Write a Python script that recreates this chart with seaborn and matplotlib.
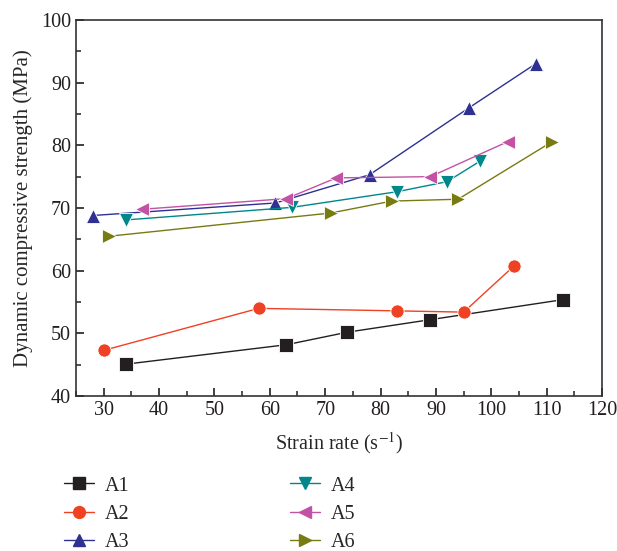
import matplotlib
matplotlib.use("Agg")
import matplotlib.pyplot as plt
import seaborn as sns
import pandas as pd
from matplotlib.ticker import MultipleLocator

series = ["A1", "A2", "A3", "A4", "A5", "A6"]
x_A1 = [34, 63, 74, 89, 113]
y_A1 = [45.1, 48.2, 50.2, 52.2, 55.4]
x_A2 = [30, 58, 83, 95, 104]
y_A2 = [47.3, 54.0, 53.6, 53.4, 60.7]
x_A3 = [28, 61, 78, 96, 108]
y_A3 = [68.8, 70.8, 75.3, 86.0, 93.0]
x_A4 = [34, 64, 83, 92, 98]
y_A4 = [68.1, 70.1, 72.6, 74.2, 77.5]
x_A5 = [37, 63, 72, 89, 103]
y_A5 = [69.8, 71.5, 74.8, 75.0, 80.6]
x_A6 = [31, 71, 82, 94, 111]
y_A6 = [65.5, 69.2, 71.1, 71.4, 80.6]

xs = [x_A1, x_A2, x_A3, x_A4, x_A5, x_A6]
ys = [y_A1, y_A2, y_A3, y_A4, y_A5, y_A6]

colors = ["#231f20", "#ef4123", "#2e3192", "#00878a", "#c452a4", "#787a12"]
markers = ["s", "o", "^", "v", "<", ">"]

rows = []
for s, xv, yv in zip(series, xs, ys):
    for a, b in zip(xv, yv):
        rows.append({"series": s, "x": a, "y": b})
df = pd.DataFrame(rows)

sns.set_style("ticks")
plt.rcParams["font.family"] = ["Liberation Serif", "DejaVu Serif"]
plt.rcParams["mathtext.fontset"] = "stix"

fig = plt.figure(figsize=(6.17, 5.51), dpi=100)
ax = fig.add_axes([0.123, 0.281, 0.853, 0.683])

sns.lineplot(data=df, x="x", y="y", hue="series", style="series",
             palette=dict(zip(series, colors)),
             markers=dict(zip(series, markers)), dashes=False,
             sort=False, estimator=None, markersize=9.5, markeredgewidth=0.6,
             linewidth=1.0, ax=ax, legend=False)

ax.set_xlim(25, 120)
ax.set_ylim(40, 100)
ax.xaxis.set_major_locator(MultipleLocator(10))
ax.xaxis.set_minor_locator(MultipleLocator(5))
ax.yaxis.set_major_locator(MultipleLocator(10))
ax.yaxis.set_minor_locator(MultipleLocator(5))
ax.tick_params(which="both", direction="in", top=False, right=False,
               color="#333333", width=1.2)
ax.tick_params(which="major", length=6, labelsize=14.5, colors="#231f20")
ax.tick_params(which="minor", length=3.5)
ax.set_xticks(range(30, 121, 10))
for sp in ax.spines.values():
    sp.set_color("#333333")
    sp.set_linewidth(1.2)
ax.set_xlabel("Strain rate (s$^{-1}$)", fontsize=14.5, labelpad=7)
ax.set_ylabel("Dynamic compressive strength (MPa)", fontsize=15, labelpad=6)

handles = []
for s, c, m in zip(series, colors, markers):
    h, = ax.plot([], [], color=c, marker=m, markersize=8.5, linewidth=1.0, label=s)
    handles.append(h)
fig.legend(handles=handles, loc="upper left", bbox_to_anchor=(0.091, 0.15),
           ncol=2, frameon=False, fontsize=14.5, columnspacing=8.0,
           handlelength=1.5, labelspacing=0.45, handletextpad=0.5,
           borderaxespad=0)

fig.savefig("out.png", dpi=100)
